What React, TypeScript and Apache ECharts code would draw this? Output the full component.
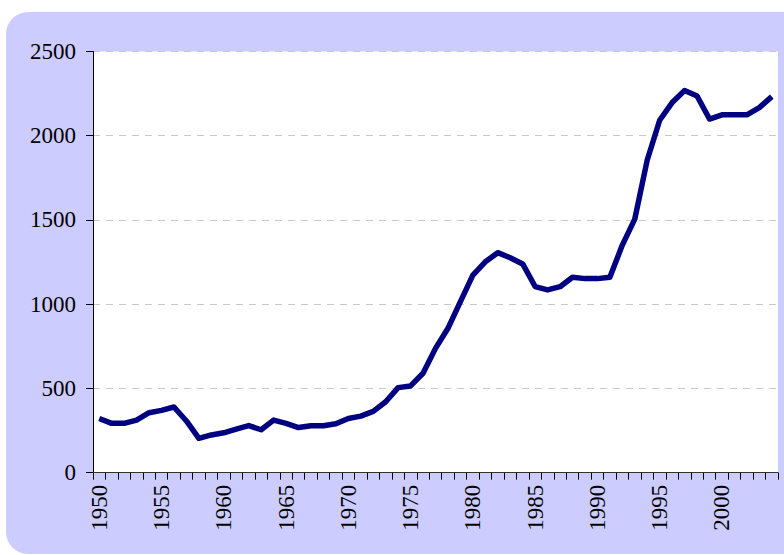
import React, { useEffect, useRef } from "react";
import * as echarts from "echarts";

const years: string[] = [];
for (let y = 1950; y <= 2004; y++) years.push(String(y));

const values: number[] = [
  322, 293, 293, 312, 356, 370, 390, 307, 204, 224,
  237, 259, 280, 255, 312, 293, 268, 279, 279, 290,
  322, 336, 364, 421, 505, 515, 590, 738, 857, 1015,
  1173, 1252, 1306, 1276, 1239, 1105, 1085, 1104, 1160, 1152,
  1152, 1160, 1351, 1505, 1856, 2092, 2197, 2268, 2236, 2099,
  2124, 2124, 2124, 2167, 2232,
];

const yTicks = { min: 0, max: 2500, interval: 500 };

export default function App() {
  const ref = useRef<HTMLDivElement>(null);
  useEffect(() => {
    const chart = echarts.init(ref.current!, undefined, { renderer: "svg" });
    const labelStyle = {
      color: "#000",
      fontFamily: "Liberation Serif",
      fontSize: 23,
    };
    chart.setOption({
      animation: false,
      backgroundColor: "#ffffff",
      graphic: [
        {
          type: "rect",
          z: -100,
          silent: true,
          shape: { x: 6, y: 12, width: 800, height: 542, r: 22 },
          style: { fill: "#CCCCFF" },
        },
      ],
      grid: {
        left: 93,
        top: 51.5,
        right: 6,
        bottom: 82.3,
        show: true,
        backgroundColor: "#ffffff",
        borderWidth: 0,
      },
      xAxis: {
        type: "category",
        data: years,
        boundaryGap: true,
        axisLine: { lineStyle: { color: "#333333", width: 1 } },
        axisTick: { show: true, interval: 0, length: 7, lineStyle: { color: "#000" } },
        axisLabel: {
          interval: 4,
          rotate: 90,
          margin: 12,
          ...labelStyle,
        },
        splitLine: { show: false },
      },
      yAxis: {
        type: "value",
        min: yTicks.min,
        max: yTicks.max,
        interval: yTicks.interval,
        axisLine: { show: true, lineStyle: { color: "#000", width: 1 } },
        axisTick: { show: true, length: 7, lineStyle: { color: "#000" } },
        axisLabel: {
          margin: 17,
          ...labelStyle,
          formatter: (v: number) => String(v),
        },
        splitLine: {
          show: true,
          lineStyle: { color: "#C8C8C8", type: [7, 6], width: 1 },
        },
      },
      series: [
        {
          type: "line",
          data: values,
          symbol: "none",
          lineStyle: { color: "#000080", width: 5.5, join: "round" },
        },
      ],
    });
    return () => chart.dispose();
  }, []);
  return (
    <div
      ref={ref}
      style={{ position: "fixed", left: 0, top: 0, width: 784, height: 555 }}
    />
  );
}
